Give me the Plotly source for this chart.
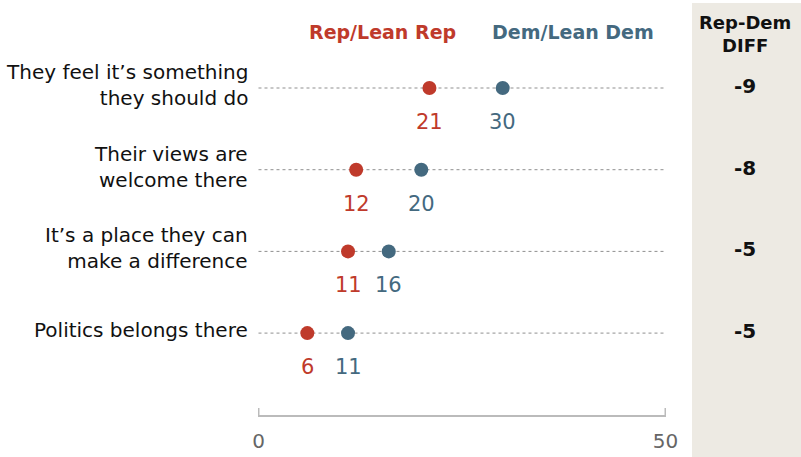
import plotly.graph_objects as go

categories = [
    "They feel it\u2019s something<br>they should do",
    "Their views are<br>welcome there",
    "It\u2019s a place they can<br>make a difference",
    "Politics belongs there",
]
rep_values = [21, 12, 11, 6]
dem_values = [30, 20, 16, 11]
diff_values = [-9, -8, -5, -5]
x_ticks = [0, 50]

REP = "#BF3A2B"
DEM = "#44697F"
FONT = "DejaVu Sans, Liberation Sans, sans-serif"

W, H = 801, 457
L, R, T, B = 258, 135, 0, 42
PW = W - L - R
PH = H - T - B
ROW0, ROWSTEP = 88, 81.7
rows = list(range(len(categories)))


def px(xp):
    return (xp - L) / PW


def py(yp):
    return (H - B - yp) / PH


fig = go.Figure()

for i in rows:
    fig.add_trace(go.Scatter(
        x=[x_ticks[0], x_ticks[-1]], y=[i, i], mode="lines",
        line=dict(color="#8f8f8f", width=1, dash="dot"),
        hoverinfo="skip", showlegend=False))

fig.add_trace(go.Scatter(
    x=rep_values, y=rows, mode="markers",
    marker=dict(color=REP, size=14), showlegend=False))
fig.add_trace(go.Scatter(
    x=dem_values, y=rows, mode="markers",
    marker=dict(color=DEM, size=14), showlegend=False))

ann = []
for i, (r, d, lab, df) in enumerate(zip(rep_values, dem_values, categories, diff_values)):
    ann.append(dict(x=r, y=i, xref="x", yref="y", text=str(r), showarrow=False,
                    xanchor="center", yanchor="middle", yshift=-34,
                    font=dict(color=REP, size=21, family=FONT)))
    ann.append(dict(x=d, y=i, xref="x", yref="y", text=str(d), showarrow=False,
                    xanchor="center", yanchor="middle", yshift=-34,
                    font=dict(color=DEM, size=21, family=FONT)))
    ann.append(dict(x=px(250), y=i, xref="paper", yref="y", text=lab, showarrow=False,
                    xanchor="right", yanchor="middle", align="right", yshift=3,
                    font=dict(color="#111111", size=20, family=FONT)))
    ann.append(dict(x=px(745), y=i, xref="paper", yref="y", text=f"<b>{df}</b>",
                    showarrow=False, xanchor="center", yanchor="middle", yshift=2,
                    font=dict(color="#111111", size=20, family=FONT)))

ann.append(dict(x=px(382), y=py(32), xref="paper", yref="paper",
                text="<b>Rep/Lean Rep</b>", showarrow=False,
                xanchor="center", yanchor="middle",
                font=dict(color=REP, size=19, family=FONT)))
ann.append(dict(x=px(573), y=py(32), xref="paper", yref="paper",
                text="<b>Dem/Lean Dem</b>", showarrow=False,
                xanchor="center", yanchor="middle",
                font=dict(color=DEM, size=19, family=FONT)))
ann.append(dict(x=px(745), y=py(33.5), xref="paper", yref="paper",
                text="<b>Rep-Dem<br>DIFF</b>", showarrow=False,
                xanchor="center", yanchor="middle",
                font=dict(color="#111111", size=18, family=FONT)))

shapes = [dict(type="rect", xref="paper", yref="paper",
               x0=px(692), x1=px(801), y0=py(457), y1=py(3),
               fillcolor="#EDEAE3", line=dict(width=0), layer="below")]
# axis tick marks pointing up from the axis line
for t in x_ticks:
    shapes.append(dict(type="line", xref="x", yref="paper", x0=t, x1=t,
                       y0=0, y1=7 / PH, line=dict(color="#BBBBBB", width=2)))

fig.update_layout(
    width=W, height=H,
    margin=dict(l=L, r=R, t=T, b=B),
    paper_bgcolor="white", plot_bgcolor="white",
    annotations=ann,
    shapes=shapes,
    xaxis=dict(range=[-0.06, 50.06], tickvals=x_ticks, showgrid=False, zeroline=False,
               showline=True, linecolor="#BBBBBB", linewidth=2, automargin=False,
               ticks="", ticklabelstandoff=7,
               tickfont=dict(color="#666666", size=20, family=FONT)),
    yaxis=dict(range=[(PH - ROW0) / ROWSTEP, -ROW0 / ROWSTEP], visible=False,
               showgrid=False, zeroline=False, automargin=False),
)

fig.write_html("out.html", config={"displayModeBar": False},
               post_script="document.body.style.margin='0';")
